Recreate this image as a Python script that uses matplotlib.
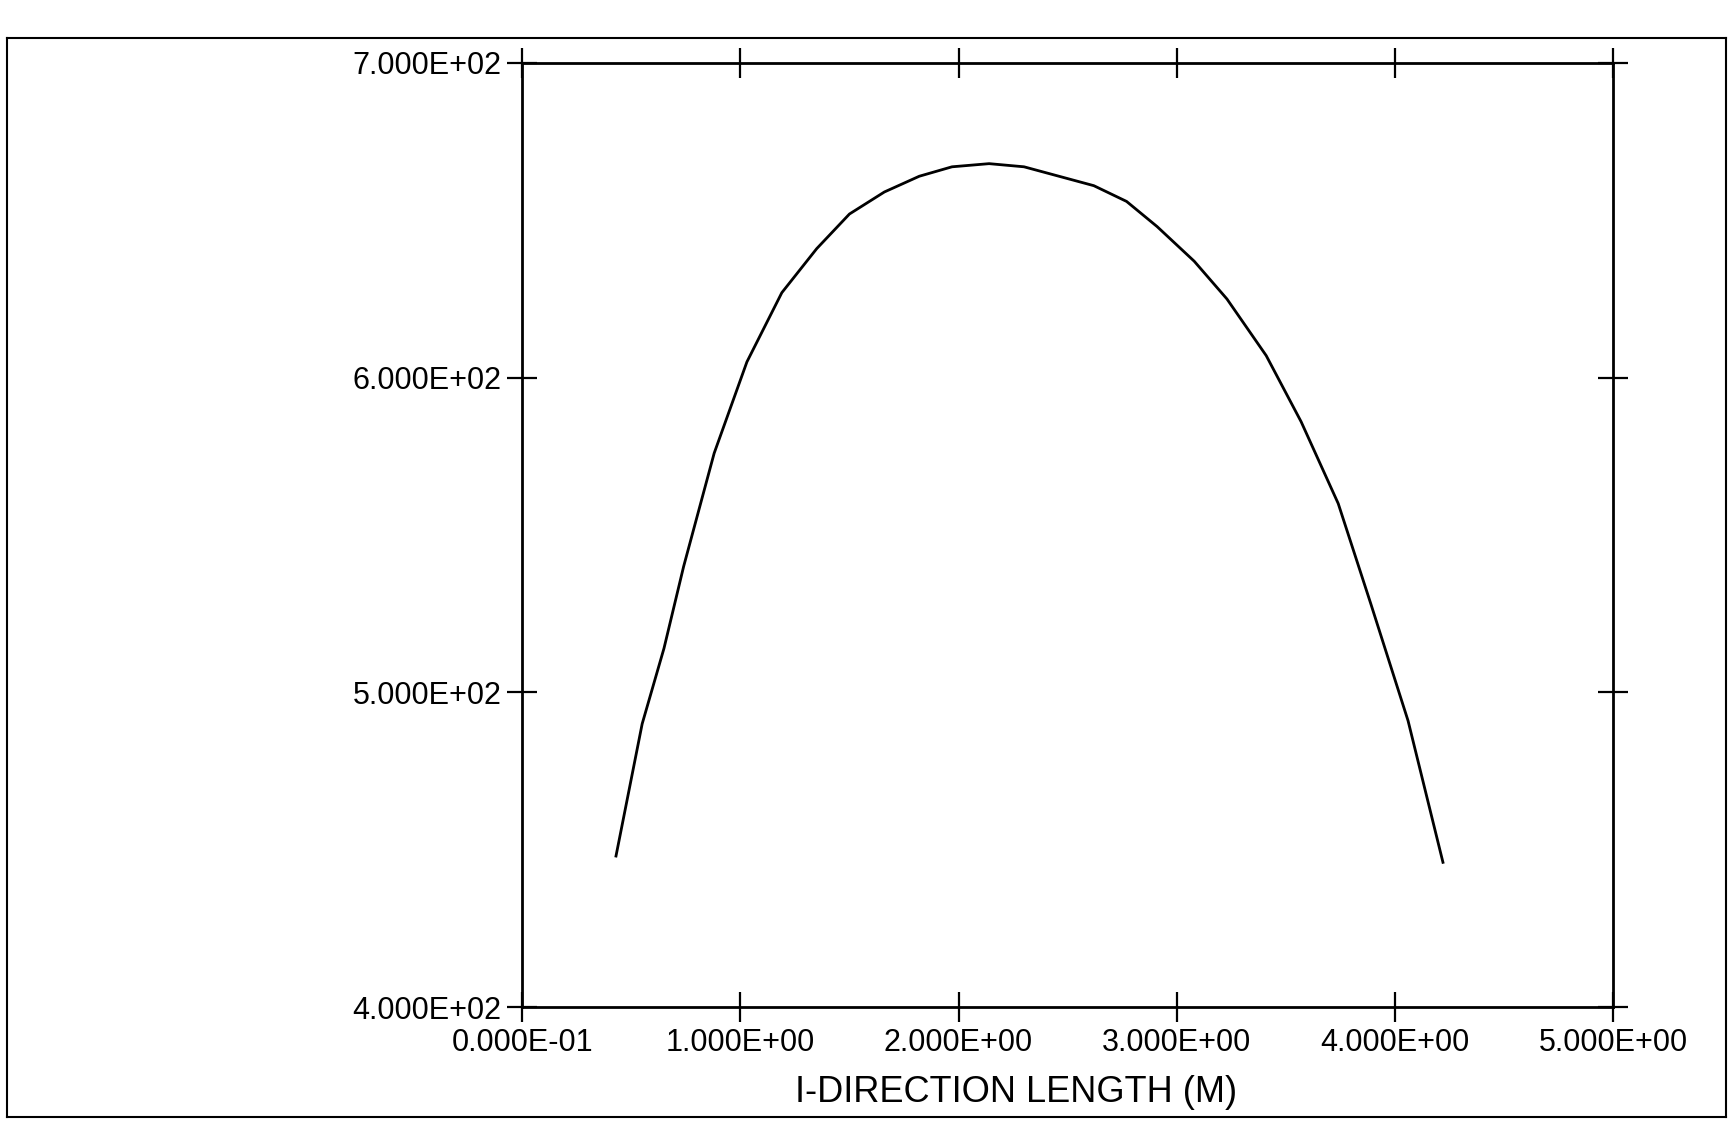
import matplotlib
matplotlib.use('Agg')
import matplotlib.pyplot as plt
from matplotlib.lines import Line2D

# Curve
length_m = [0.43, 0.55, 0.65, 0.74, 0.88, 1.03, 1.19, 1.35, 1.50, 1.66, 1.82, 1.97,
            2.14, 2.30, 2.46, 2.62, 2.77, 2.91, 3.08, 3.23, 3.41, 3.57, 3.74, 3.89,
            4.06, 4.22]
values = [448, 490, 514, 540, 576, 605, 627, 641, 652, 659, 664, 667,
          668, 667, 664, 661, 656, 648, 637, 625, 607, 586, 560, 528,
          491, 446]

x_ticks = [0, 1, 2, 3, 4, 5]
x_labels = ['0.000E-01', '1.000E+00', '2.000E+00', '3.000E+00', '4.000E+00', '5.000E+00']
y_ticks = [400, 500, 600, 700]
y_labels = ['4.000E+02', '5.000E+02', '6.000E+02', '7.000E+02']

plt.rcParams['font.family'] = ['Liberation Sans', 'DejaVu Sans']

fig = plt.figure(figsize=(17.29, 11.24), dpi=100)
ax = fig.add_axes([0.302, 0.104, 0.631, 0.840])

ax.plot(length_m, values, color='black', linewidth=2)

ax.set_xlim(0, 5)
ax.set_ylim(400, 700)
ax.set_xticks(x_ticks)
ax.set_xticklabels(x_labels)
ax.set_yticks(y_ticks)
ax.set_yticklabels(y_labels)

for s in ax.spines.values():
    s.set_linewidth(2)

ax.tick_params(direction='inout', length=22, width=1.6, labelsize=22,
               top=True, right=True, pad=4)
ax.set_xlabel('I-DIRECTION LENGTH (M)', fontsize=26)
ax.xaxis.set_label_coords(0.453, -0.072)

# page frame around the plot
frame = [([0.004, 0.998], [0.966, 0.966]), ([0.004, 0.004], [0.006, 0.966]),
         ([0.004, 0.998], [0.006, 0.006]), ([0.998, 0.998], [0.006, 0.966])]
for fx, fy in frame:
    fig.add_artist(Line2D(fx, fy, transform=fig.transFigure, color='black', linewidth=1.5))

fig.savefig('out.png', dpi=100, facecolor='white')
